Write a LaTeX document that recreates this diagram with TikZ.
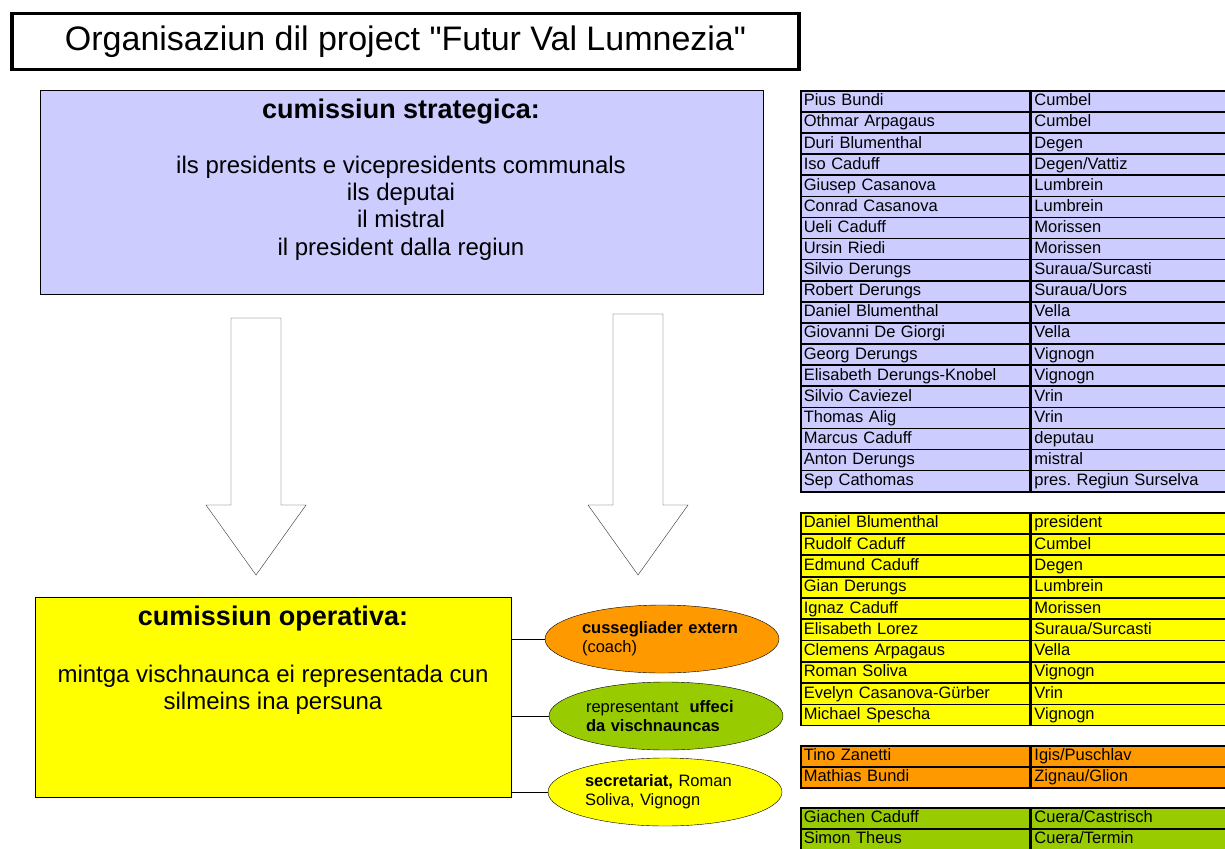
\documentclass[tikz,border=0pt]{standalone}
\usepackage{fontspec}
\setmainfont{Liberation Sans}[Ligatures=TeXOff]
\usetikzlibrary{positioning,shapes.geometric}

\definecolor{strategic}{HTML}{CCCCFF}
\definecolor{operative}{HTML}{FFFF00}
\definecolor{coachcol}{HTML}{FF9900}
\definecolor{uffecicol}{HTML}{99CC00}

\tikzset{
  titlebox/.style={draw, line width=3.5pt, minimum width=787pt, minimum height=56pt, font=\fontsize{34}{40}\selectfont},
  combox/.style={draw, anchor=north west},
  comhead/.style={font=\fontsize{27}{30}\selectfont\bfseries},
  combody/.style={align=center, font=\fontsize{24}{27.2}\selectfont},
  bubble/.style={ellipse, draw, inner sep=0pt, minimum width=234pt, minimum height=68pt, text width=160pt, align=left, font=\fontsize{16.5}{19}\selectfont},
  namecell/.style={draw, line width=1.6pt, anchor=north west, minimum height=21.1pt, inner xsep=3pt, inner ysep=0pt, text height=12.5pt, text depth=3.5pt, text width=223pt, align=left, font=\fontsize{16.5}{18}\selectfont},
  placecell/.style={namecell, text width=194pt}
}

% one table row: node name, top, colour, person, place
\newcommand{\row}[5]{%
  \node[namecell, fill=#3] (#1) at (800,#2) {#4};
  \node[placecell, fill=#3, right=0pt of #1] (#1p) {#5};}

\begin{document}
\frenchspacing
\begin{tikzpicture}[x=1pt, y=-1pt]
  \useasboundingbox (0,0) rectangle (1225,848);

  \node[titlebox] (title) at (405.5,41.5) {Organisaziun dil project "Futur Val Lumnezia"};

  % strategic commission
  \node[combox, fill=strategic, minimum width=723pt, minimum height=204pt] (strat) at (40,90) {};
  \node[comhead] (strathead) at (401,112) {cumissiun strategica:};
  \node[combody] (stratbody) at (401,208) {ils presidents e vicepresidents communals\\ ils deputai\\ il mistral\\ il president dalla regiun};

  % big hollow arrows
  \foreach \x/\top in {256/318, 638/314}
    \draw[gray!40!black, fill=white] (\x-25,\top) -- (\x+25,\top) -- (\x+25,505) -- (\x+50,505)
      -- (\x,575) -- (\x-50,505) -- (\x-25,505) -- cycle;

  % operative commission
  \node[combox, fill=operative, minimum width=476pt, minimum height=200pt] (oper) at (35,597) {};
  \node[comhead] (operhead) at (273,619) {cumissiun operativa:};
  \node[combody] (operbody) at (273,690) {mintga vischnaunca ei representada cun\\ silmeins ina persuna};

  \node[bubble, fill=coachcol] (coach) at (662,639) {\textbf{cussegliader extern}\\ (coach)};
  \node[bubble, fill=uffecicol] (uffeci) at (666,716) {representant\ \ \textbf{uffeci}\\ \textbf{da vischnauncas}};
  \node[bubble, fill=operative] (secr) at (665,792) {\textbf{secretariat,} Roman\\ Soliva, Vignogn};

  \draw (oper.east |- coach.west) -- (coach.west);
  \draw (oper.east |- uffeci.west) -- (uffeci.west);
  \draw (oper.east |- secr.west) -- (secr.west);

  % member tables
  \row{s1}{90.0}{strategic}{Pius Bundi}{Cumbel}
  \row{s2}{111.1}{strategic}{Othmar Arpagaus}{Cumbel}
  \row{s3}{132.2}{strategic}{Duri Blumenthal}{Degen}
  \row{s4}{153.3}{strategic}{Iso Caduff}{Degen/Vattiz}
  \row{s5}{174.4}{strategic}{Giusep Casanova}{Lumbrein}
  \row{s6}{195.5}{strategic}{Conrad Casanova}{Lumbrein}
  \row{s7}{216.6}{strategic}{Ueli Caduff}{Morissen}
  \row{s8}{237.7}{strategic}{Ursin Riedi}{Morissen}
  \row{s9}{258.8}{strategic}{Silvio Derungs}{Suraua/Surcasti}
  \row{s10}{279.9}{strategic}{Robert Derungs}{Suraua/Uors}
  \row{s11}{301.0}{strategic}{Daniel Blumenthal}{Vella}
  \row{s12}{322.1}{strategic}{Giovanni De Giorgi}{Vella}
  \row{s13}{343.2}{strategic}{Georg Derungs}{Vignogn}
  \row{s14}{364.3}{strategic}{Elisabeth Derungs-Knobel}{Vignogn}
  \row{s15}{385.4}{strategic}{Silvio Caviezel}{Vrin}
  \row{s16}{406.5}{strategic}{Thomas Alig}{Vrin}
  \row{s17}{427.6}{strategic}{Marcus Caduff}{deputau}
  \row{s18}{448.7}{strategic}{Anton Derungs}{mistral}
  \row{s19}{469.8}{strategic}{Sep Cathomas}{pres. Regiun Surselva}

  \row{o1}{512.0}{operative}{Daniel Blumenthal}{president}
  \row{o2}{533.3}{operative}{Rudolf Caduff}{Cumbel}
  \row{o3}{554.6}{operative}{Edmund Caduff}{Degen}
  \row{o4}{575.9}{operative}{Gian Derungs}{Lumbrein}
  \row{o5}{597.2}{operative}{Ignaz Caduff}{Morissen}
  \row{o6}{618.5}{operative}{Elisabeth Lorez}{Suraua/Surcasti}
  \row{o7}{639.8}{operative}{Clemens Arpagaus}{Vella}
  \row{o8}{661.1}{operative}{Roman Soliva}{Vignogn}
  \row{o9}{682.4}{operative}{Evelyn Casanova-Gürber}{Vrin}
  \row{o10}{703.7}{operative}{Michael Spescha}{Vignogn}

  \row{c1}{745.0}{coachcol}{Tino Zanetti}{Igis/Puschlav}
  \row{c2}{766.0}{coachcol}{Mathias Bundi}{Zignau/Glion}

  \row{u1}{807.0}{uffecicol}{Giachen Caduff}{Cuera/Castrisch}
  \row{u2}{828.0}{uffecicol}{Simon Theus}{Cuera/Termin}
\end{tikzpicture}
\end{document}
